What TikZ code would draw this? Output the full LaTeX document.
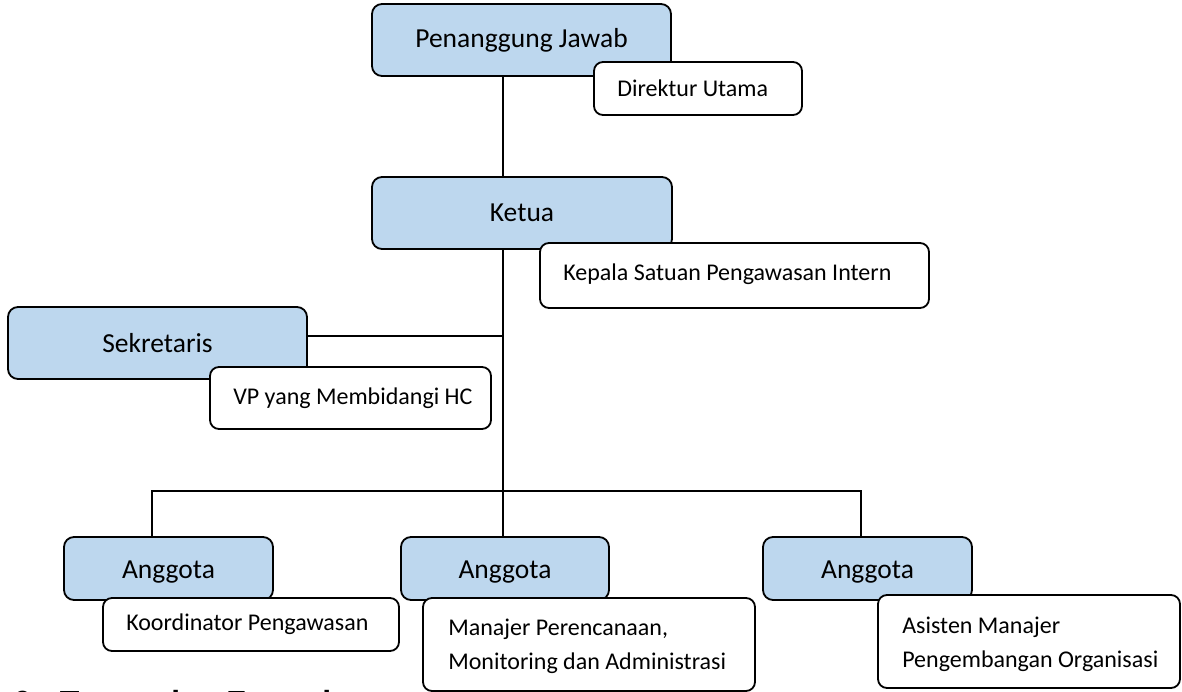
\documentclass[tikz,border=0pt]{standalone}
\usepackage{fontspec}
\setmainfont{Carlito}
\newfontfamily\headfont{Liberation Sans}
\definecolor{boxblue}{HTML}{BDD7EE}
\pgfdeclarelayer{background}
\pgfsetlayers{background,main}
\tikzset{
  bbox/.style={draw=black, line width=1.8pt, rounded corners=10pt, fill=boxblue,
    font=\fontsize{27.5}{33}\selectfont, inner sep=0pt},
  abox/.style={bbox, minimum height=63pt, text height=20pt, text depth=1pt},
  wbox/.style={draw=black, line width=1.8pt, rounded corners=9pt, fill=white, inner sep=0pt},
  wtext/.style={anchor=west, inner sep=0pt, align=left, font=\fontsize{24}{34}\selectfont},
  conn/.style={line width=1.8pt},
  busline/.style={line width=1.5pt},
}
\begin{document}
\begin{tikzpicture}[x=1pt, y=-1pt]
\useasboundingbox (0,0) rectangle (1182,692);
\clip (0,0) rectangle (1182,692);
% junction coordinates
\coordinate (trunk) at (503,0);
\coordinate (sj) at (503,336);
\coordinate (bL) at (152,491);
\coordinate (bM) at (503,491);
\coordinate (bR) at (861,491);

% blue boxes
\node[bbox, minimum width=299pt, minimum height=72pt] (PJ) at (521.5,40) {Penanggung Jawab};
\node[bbox, minimum width=300pt, minimum height=72pt] (K) at (522,213) {Ketua};
\node[bbox, minimum width=299pt, minimum height=72pt] (S) at (157.5,343) {Sekretaris};
\node[abox, minimum width=209pt] (A1) at (168.5,568.5) {Anggota};
\node[abox, minimum width=208pt] (A2) at (505,568.5) {Anggota};
\node[abox, minimum width=209pt] (A3) at (867.5,568.5) {Anggota};

% connectors (behind boxes)
\begin{pgfonlayer}{background}
\draw[conn] (PJ.south -| trunk) -- (K.north -| trunk);
\draw[conn] (K.south -| trunk) -- (bM) -- (A2.north -| trunk);
\draw[busline] (S.east |- sj) -- (sj);
\draw[busline] (A1.north -| bL) -- (bL) -- (bR) -- (A3.north -| bR);
\end{pgfonlayer}

% white boxes
\node[wbox, minimum width=208pt, minimum height=53pt] (DU) at (698,88.5) {};
\node[wtext] (DUt) at ([xshift=24pt]DU.west) {Direktur Utama};
\node[wbox, minimum width=389pt, minimum height=65pt] (KS) at (734.5,275.5) {};
\node[wtext] (KSt) at ([xshift=24pt,yshift=1pt]KS.west) {Kepala Satuan Pengawasan Intern};
\node[wbox, minimum width=281pt, minimum height=62pt] (VP) at (350.5,398) {};
\node[wtext] (VPt) at ([xshift=24pt]VP.west) {VP yang Membidangi HC};
\node[wbox, minimum width=296pt, minimum height=53pt] (KP) at (251,624.5) {};
\node[wtext] (KPt) at ([xshift=24pt]KP.west) {Koordinator Pengawasan};
\node[wbox, minimum width=332pt, minimum height=93pt] (MP) at (589,644.5) {};
\node[wtext] (MPt) at ([xshift=26pt,yshift=-2pt]MP.west) {Manajer Perencanaan,\\Monitoring dan Administrasi};
\node[wbox, minimum width=302pt, minimum height=93pt] (AM) at (1029,641.5) {};
\node[wtext] (AMt) at ([xshift=25pt,yshift=-3pt]AM.west) {Asisten Manajer\\Pengembangan Organisasi};

% cut-off heading at the bottom
\node[anchor=base west, inner sep=0pt, font=\headfont\bfseries\fontsize{32}{38}\selectfont] (head) at (13,713) {6.\hspace{20pt}Tugas dan Fungsi};
\end{tikzpicture}
\end{document}
